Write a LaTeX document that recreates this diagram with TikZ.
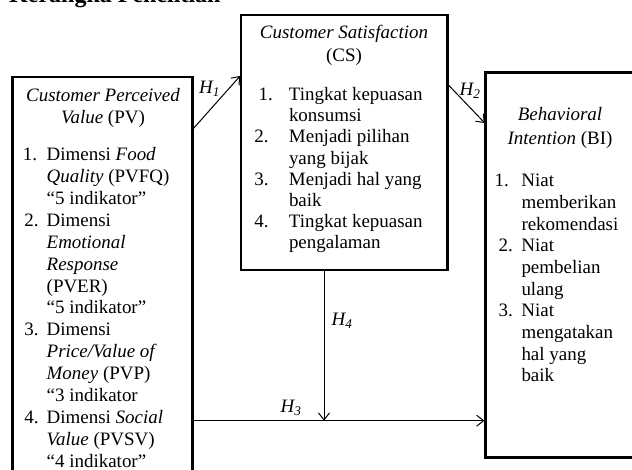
\documentclass[tikz,border=0pt]{standalone}
\usepackage{fontspec}
\setmainfont{Liberation Serif}
\usetikzlibrary{arrows.meta}
\begin{document}
\begin{tikzpicture}[x=1pt,y=-1pt,
  box/.style={draw, line width=2.6pt, inner sep=0pt, outer sep=0pt, anchor=north west},
  txt/.style={inner sep=0pt, outer sep=0pt},
  arr/.style={line width=1pt, -{Straight Barb[length=7pt,width=11pt,line width=1pt]}},
  hl/.style={inner sep=0pt, font=\fontsize{18.96}{21.8}\selectfont\itshape}]
\useasboundingbox (0,0) rectangle (632,469);

% title (cut at the top)
\node[anchor=base west, inner sep=0pt, font=\fontsize{24}{28}\selectfont\bfseries] (title) at (9,2.5) {Kerangka Penelitian};

% boxes
\node[box, minimum width=180.2pt, minimum height=450pt] (pv) at (12.5,76.8) {};
\node[box, minimum width=206.5pt, minimum height=255pt] (cs) at (241,15) {};
\node[box, minimum width=200pt, minimum height=385.4pt] (bi) at (485.7,72.3) {};

% PV text
\node[txt, align=center, anchor=north, font=\fontsize{18.96}{21.5}\selectfont] (pvh) at (103,86.65)
  {\strut\textit{Customer Perceived}\\\textit{Value} (PV)};
\node[txt, align=left, anchor=north west, font=\fontsize{18.96}{21.9}\selectfont] (pvl) at (22.9,145.27)
  {\strut\makebox[23.8pt][l]{1.}Dimensi \textit{Food}\\
   \hspace*{23.8pt}\textit{Quality} (PVFQ)\\
   \hspace*{23.8pt}“5 indikator”\\
   \hspace*{1.4pt}\makebox[22.4pt][l]{2.}Dimensi\\
   \hspace*{23.8pt}\textit{Emotional}\\
   \hspace*{23.8pt}\textit{Response}\\
   \hspace*{23.8pt}(PVER)\\
   \hspace*{23.8pt}“5 indikator”\\
   \hspace*{1.4pt}\makebox[22.4pt][l]{3.}Dimensi\\
   \hspace*{23.8pt}\textit{Price/Value of}\\
   \hspace*{23.8pt}\textit{Money} (PVP)\\
   \hspace*{23.8pt}“3 indikator\\
   \hspace*{1.4pt}\makebox[22.4pt][l]{4.}Dimensi \textit{Social}\\
   \hspace*{23.8pt}\textit{Value} (PVSV)\\
   \hspace*{23.8pt}“4 indikator”};

% CS text
\node[txt, align=center, anchor=north, font=\fontsize{18.96}{22.7}\selectfont] (csh) at (344,22.41)
  {\strut\textit{Customer Satisfaction}\\(CS)};
\node[txt, align=left, anchor=north west, font=\fontsize{18.96}{21.1}\selectfont] (csl) at (254.4,85.93)
  {\strut\hspace*{4.2pt}\makebox[30.4pt][l]{1.}Tingkat kepuasan\\
   \hspace*{34.6pt}konsumsi\\
   \makebox[34.6pt][l]{2.}Menjadi pilihan\\
   \hspace*{34.6pt}yang bijak\\
   \makebox[34.6pt][l]{3.}Menjadi hal yang\\
   \hspace*{34.6pt}baik\\
   \makebox[34.6pt][l]{4.}Tingkat kepuasan\\
   \hspace*{34.6pt}pengalaman};

% BI text
\node[txt, align=center, anchor=north, font=\fontsize{18.96}{23.5}\selectfont] (bih) at (560,104.05)
  {\strut\textit{Behavioral}\\\textit{Intention} (BI)};
\node[txt, align=left, anchor=north west, font=\fontsize{18.96}{21.7}\selectfont] (bil) at (494.6,171.5)
  {\strut\makebox[26.9pt][l]{1.}Niat\\
   \hspace*{26.9pt}memberikan\\
   \hspace*{26.9pt}rekomendasi\\
   \hspace*{4.1pt}\makebox[22.8pt][l]{2.}Niat\\
   \hspace*{26.9pt}pembelian\\
   \hspace*{26.9pt}ulang\\
   \hspace*{4.1pt}\makebox[22.8pt][l]{3.}Niat\\
   \hspace*{26.9pt}mengatakan\\
   \hspace*{26.9pt}hal yang\\
   \hspace*{26.9pt}baik};

% connectors
\coordinate (j) at (324,420.7);
\draw[arr, shorten >=1.3pt] ([yshift=-52.5pt]pv.north east) -- ([yshift=-60pt]cs.north west);
\draw[arr, shorten >=1.3pt] ([yshift=-69pt]cs.north east) -- ([yshift=-51.7pt]bi.north west);
\draw[arr] (cs.south -| j) -- (j);
\draw[arr, shorten >=1.3pt] (pv.east |- j) -- (bi.west |- j);

% labels
\node[hl] (h1) at (209.5,89) {H\textsubscript{1}};
\node[hl] (h2) at (470,91) {H\textsubscript{2}};
\node[hl] (h3) at (291,407.5) {H\textsubscript{3}};
\node[hl] (h4) at (342,321) {H\textsubscript{4}};
\end{tikzpicture}
\end{document}
